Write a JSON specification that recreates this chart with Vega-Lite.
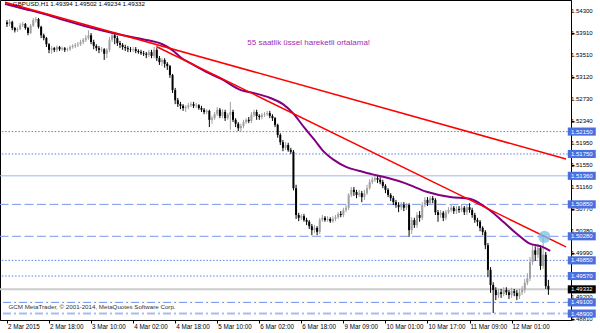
{
"$schema": "https://vega.github.io/schema/vega-lite/v6.json",
"width": 571, "height": 320,
"autosize": {"type": "none"},
"padding": {"left": 0, "top": 0, "right": 29, "bottom": 13},
"background": "white",
"config": {"font": "Liberation Sans", "view": {"stroke": "#000000", "strokeWidth": 1},
 "axis": {"grid": false, "title": null}},
"datasets": {
"levels": [{"p":1.5215},{"p":1.5175},{"p":1.5136},{"p":1.5085},{"p":1.5028},{"p":1.4985},{"p":1.4957},{"p":1.4910},{"p":1.4890}],
"current": [{"p":1.49332}],
"yticks": [{"p":1.543},{"p":1.5391},{"p":1.5351},{"p":1.5312},{"p":1.5273},{"p":1.5234},{"p":1.5195},{"p":1.5155},{"p":1.5116},{"p":1.5077},{"p":1.5038},{"p":1.4999},{"p":1.4920},{"p":1.4881}],
"xticks": [{"i":0,"t":"2 Mar 2015"},{"i":16,"t":"2 Mar 18:00"},{"i":32,"t":"3 Mar 10:00"},{"i":48,"t":"4 Mar 02:00"},{"i":64,"t":"4 Mar 18:00"},{"i":80,"t":"5 Mar 10:00"},{"i":96,"t":"6 Mar 02:00"},{"i":112,"t":"6 Mar 18:00"},{"i":128,"t":"9 Mar 09:00"},{"i":144,"t":"10 Mar 01:00"},{"i":160,"t":"10 Mar 17:00"},{"i":176,"t":"11 Mar 09:00"},{"i":192,"t":"12 Mar 01:00"}],
"candles": [
{"i":0,"o":1.5410,"h":1.5414,"l":1.5402,"c":1.5407},
{"i":1,"o":1.5407,"h":1.5416,"l":1.5403,"c":1.5411},
{"i":2,"o":1.5411,"h":1.5413,"l":1.5396,"c":1.5400},
{"i":3,"o":1.5400,"h":1.5402,"l":1.5392,"c":1.5396},
{"i":4,"o":1.5396,"h":1.5401,"l":1.5393,"c":1.5398},
{"i":5,"o":1.5398,"h":1.5409,"l":1.5396,"c":1.5405},
{"i":6,"o":1.5405,"h":1.5411,"l":1.5402,"c":1.5407},
{"i":7,"o":1.5407,"h":1.5409,"l":1.5397,"c":1.5400},
{"i":8,"o":1.5400,"h":1.5402,"l":1.5387,"c":1.5391},
{"i":9,"o":1.5391,"h":1.5407,"l":1.5389,"c":1.5404},
{"i":10,"o":1.5404,"h":1.5418,"l":1.5402,"c":1.5414},
{"i":11,"o":1.5414,"h":1.5420,"l":1.5410,"c":1.5416},
{"i":12,"o":1.5416,"h":1.5418,"l":1.5399,"c":1.5402},
{"i":13,"o":1.5402,"h":1.5404,"l":1.5382,"c":1.5387},
{"i":14,"o":1.5387,"h":1.5390,"l":1.5378,"c":1.5382},
{"i":15,"o":1.5382,"h":1.5384,"l":1.5366,"c":1.5371},
{"i":16,"o":1.5371,"h":1.5373,"l":1.5355,"c":1.5361},
{"i":17,"o":1.5361,"h":1.5368,"l":1.5354,"c":1.5364},
{"i":18,"o":1.5364,"h":1.5366,"l":1.5357,"c":1.5361},
{"i":19,"o":1.5361,"h":1.5369,"l":1.5357,"c":1.5366},
{"i":20,"o":1.5366,"h":1.5368,"l":1.5359,"c":1.5362},
{"i":21,"o":1.5362,"h":1.5367,"l":1.5359,"c":1.5364},
{"i":22,"o":1.5364,"h":1.5366,"l":1.5357,"c":1.5361},
{"i":23,"o":1.5361,"h":1.5365,"l":1.5358,"c":1.5362},
{"i":24,"o":1.5362,"h":1.5369,"l":1.5359,"c":1.5366},
{"i":25,"o":1.5366,"h":1.5371,"l":1.5363,"c":1.5368},
{"i":26,"o":1.5368,"h":1.5373,"l":1.5364,"c":1.5370},
{"i":27,"o":1.5370,"h":1.5375,"l":1.5366,"c":1.5371},
{"i":28,"o":1.5371,"h":1.5379,"l":1.5368,"c":1.5375},
{"i":29,"o":1.5375,"h":1.5382,"l":1.5371,"c":1.5379},
{"i":30,"o":1.5379,"h":1.5387,"l":1.5375,"c":1.5382},
{"i":31,"o":1.5382,"h":1.5396,"l":1.5379,"c":1.5387},
{"i":32,"o":1.5387,"h":1.5391,"l":1.5371,"c":1.5375},
{"i":33,"o":1.5375,"h":1.5379,"l":1.5362,"c":1.5368},
{"i":34,"o":1.5368,"h":1.5371,"l":1.5359,"c":1.5364},
{"i":35,"o":1.5364,"h":1.5368,"l":1.5355,"c":1.5361},
{"i":36,"o":1.5361,"h":1.5366,"l":1.5357,"c":1.5362},
{"i":37,"o":1.5362,"h":1.5364,"l":1.5343,"c":1.5354},
{"i":38,"o":1.5354,"h":1.5364,"l":1.5346,"c":1.5361},
{"i":39,"o":1.5361,"h":1.5384,"l":1.5357,"c":1.5379},
{"i":40,"o":1.5379,"h":1.5393,"l":1.5375,"c":1.5387},
{"i":41,"o":1.5387,"h":1.5393,"l":1.5371,"c":1.5382},
{"i":42,"o":1.5382,"h":1.5386,"l":1.5368,"c":1.5373},
{"i":43,"o":1.5373,"h":1.5377,"l":1.5364,"c":1.5370},
{"i":44,"o":1.5370,"h":1.5373,"l":1.5361,"c":1.5366},
{"i":45,"o":1.5366,"h":1.5370,"l":1.5359,"c":1.5364},
{"i":46,"o":1.5364,"h":1.5368,"l":1.5357,"c":1.5362},
{"i":47,"o":1.5362,"h":1.5366,"l":1.5357,"c":1.5361},
{"i":48,"o":1.5361,"h":1.5366,"l":1.5357,"c":1.5362},
{"i":49,"o":1.5362,"h":1.5366,"l":1.5355,"c":1.5359},
{"i":50,"o":1.5359,"h":1.5362,"l":1.5354,"c":1.5357},
{"i":51,"o":1.5357,"h":1.5361,"l":1.5352,"c":1.5355},
{"i":52,"o":1.5355,"h":1.5359,"l":1.5350,"c":1.5354},
{"i":53,"o":1.5354,"h":1.5357,"l":1.5346,"c":1.5352},
{"i":54,"o":1.5352,"h":1.5361,"l":1.5348,"c":1.5357},
{"i":55,"o":1.5357,"h":1.5361,"l":1.5346,"c":1.5350},
{"i":56,"o":1.5350,"h":1.5366,"l":1.5346,"c":1.5361},
{"i":57,"o":1.5361,"h":1.5364,"l":1.5341,"c":1.5346},
{"i":58,"o":1.5346,"h":1.5350,"l":1.5334,"c":1.5339},
{"i":59,"o":1.5339,"h":1.5346,"l":1.5332,"c":1.5343},
{"i":60,"o":1.5343,"h":1.5346,"l":1.5329,"c":1.5336},
{"i":61,"o":1.5336,"h":1.5339,"l":1.5325,"c":1.5332},
{"i":62,"o":1.5332,"h":1.5334,"l":1.5311,"c":1.5316},
{"i":63,"o":1.5316,"h":1.5318,"l":1.5284,"c":1.5289},
{"i":64,"o":1.5289,"h":1.5293,"l":1.5264,"c":1.5271},
{"i":65,"o":1.5271,"h":1.5275,"l":1.5259,"c":1.5264},
{"i":66,"o":1.5264,"h":1.5268,"l":1.5255,"c":1.5261},
{"i":67,"o":1.5261,"h":1.5264,"l":1.5252,"c":1.5257},
{"i":68,"o":1.5257,"h":1.5262,"l":1.5250,"c":1.5259},
{"i":69,"o":1.5259,"h":1.5266,"l":1.5255,"c":1.5262},
{"i":70,"o":1.5262,"h":1.5268,"l":1.5259,"c":1.5264},
{"i":71,"o":1.5264,"h":1.5268,"l":1.5257,"c":1.5261},
{"i":72,"o":1.5261,"h":1.5266,"l":1.5257,"c":1.5262},
{"i":73,"o":1.5262,"h":1.5264,"l":1.5254,"c":1.5257},
{"i":74,"o":1.5257,"h":1.5261,"l":1.5250,"c":1.5254},
{"i":75,"o":1.5254,"h":1.5257,"l":1.5246,"c":1.5250},
{"i":76,"o":1.5250,"h":1.5255,"l":1.5246,"c":1.5252},
{"i":77,"o":1.5252,"h":1.5254,"l":1.5223,"c":1.5236},
{"i":78,"o":1.5236,"h":1.5243,"l":1.5229,"c":1.5239},
{"i":79,"o":1.5239,"h":1.5250,"l":1.5236,"c":1.5246},
{"i":80,"o":1.5246,"h":1.5259,"l":1.5243,"c":1.5254},
{"i":81,"o":1.5254,"h":1.5257,"l":1.5239,"c":1.5243},
{"i":82,"o":1.5243,"h":1.5255,"l":1.5239,"c":1.5250},
{"i":83,"o":1.5250,"h":1.5254,"l":1.5234,"c":1.5239},
{"i":84,"o":1.5239,"h":1.5248,"l":1.5236,"c":1.5245},
{"i":85,"o":1.5245,"h":1.5268,"l":1.5218,"c":1.5250},
{"i":86,"o":1.5250,"h":1.5254,"l":1.5232,"c":1.5236},
{"i":87,"o":1.5236,"h":1.5239,"l":1.5223,"c":1.5229},
{"i":88,"o":1.5229,"h":1.5232,"l":1.5216,"c":1.5221},
{"i":89,"o":1.5221,"h":1.5229,"l":1.5214,"c":1.5225},
{"i":90,"o":1.5225,"h":1.5236,"l":1.5221,"c":1.5232},
{"i":91,"o":1.5232,"h":1.5239,"l":1.5229,"c":1.5236},
{"i":92,"o":1.5236,"h":1.5241,"l":1.5230,"c":1.5234},
{"i":93,"o":1.5234,"h":1.5250,"l":1.5230,"c":1.5245},
{"i":94,"o":1.5245,"h":1.5254,"l":1.5241,"c":1.5250},
{"i":95,"o":1.5250,"h":1.5254,"l":1.5236,"c":1.5243},
{"i":96,"o":1.5243,"h":1.5246,"l":1.5236,"c":1.5241},
{"i":97,"o":1.5241,"h":1.5248,"l":1.5237,"c":1.5245},
{"i":98,"o":1.5245,"h":1.5250,"l":1.5241,"c":1.5246},
{"i":99,"o":1.5246,"h":1.5252,"l":1.5243,"c":1.5248},
{"i":100,"o":1.5248,"h":1.5252,"l":1.5239,"c":1.5243},
{"i":101,"o":1.5243,"h":1.5246,"l":1.5234,"c":1.5239},
{"i":102,"o":1.5239,"h":1.5241,"l":1.5223,"c":1.5227},
{"i":103,"o":1.5227,"h":1.5229,"l":1.5204,"c":1.5209},
{"i":104,"o":1.5209,"h":1.5212,"l":1.5191,"c":1.5196},
{"i":105,"o":1.5196,"h":1.5200,"l":1.5180,"c":1.5186},
{"i":106,"o":1.5186,"h":1.5196,"l":1.5182,"c":1.5191},
{"i":107,"o":1.5191,"h":1.5195,"l":1.5179,"c":1.5182},
{"i":108,"o":1.5182,"h":1.5186,"l":1.5175,"c":1.5179},
{"i":109,"o":1.5179,"h":1.5182,"l":1.5110,"c":1.5114},
{"i":110,"o":1.5114,"h":1.5120,"l":1.5059,"c":1.5066},
{"i":111,"o":1.5066,"h":1.5070,"l":1.5055,"c":1.5061},
{"i":112,"o":1.5061,"h":1.5068,"l":1.5057,"c":1.5064},
{"i":113,"o":1.5064,"h":1.5068,"l":1.5054,"c":1.5057},
{"i":114,"o":1.5057,"h":1.5061,"l":1.5048,"c":1.5054},
{"i":115,"o":1.5054,"h":1.5057,"l":1.5041,"c":1.5046},
{"i":116,"o":1.5046,"h":1.5050,"l":1.5030,"c":1.5039},
{"i":117,"o":1.5039,"h":1.5048,"l":1.5034,"c":1.5043},
{"i":118,"o":1.5043,"h":1.5046,"l":1.5030,"c":1.5036},
{"i":119,"o":1.5036,"h":1.5061,"l":1.5032,"c":1.5057},
{"i":120,"o":1.5057,"h":1.5066,"l":1.5054,"c":1.5061},
{"i":121,"o":1.5061,"h":1.5064,"l":1.5054,"c":1.5057},
{"i":122,"o":1.5057,"h":1.5064,"l":1.5054,"c":1.5059},
{"i":123,"o":1.5059,"h":1.5062,"l":1.5052,"c":1.5055},
{"i":124,"o":1.5055,"h":1.5064,"l":1.5052,"c":1.5059},
{"i":125,"o":1.5059,"h":1.5066,"l":1.5055,"c":1.5062},
{"i":126,"o":1.5062,"h":1.5071,"l":1.5059,"c":1.5068},
{"i":127,"o":1.5068,"h":1.5073,"l":1.5062,"c":1.5066},
{"i":128,"o":1.5066,"h":1.5079,"l":1.5062,"c":1.5075},
{"i":129,"o":1.5075,"h":1.5084,"l":1.5071,"c":1.5079},
{"i":130,"o":1.5079,"h":1.5105,"l":1.5075,"c":1.5102},
{"i":131,"o":1.5102,"h":1.5116,"l":1.5098,"c":1.5111},
{"i":132,"o":1.5111,"h":1.5116,"l":1.5100,"c":1.5107},
{"i":133,"o":1.5107,"h":1.5111,"l":1.5096,"c":1.5102},
{"i":134,"o":1.5102,"h":1.5111,"l":1.5098,"c":1.5105},
{"i":135,"o":1.5105,"h":1.5109,"l":1.5089,"c":1.5098},
{"i":136,"o":1.5098,"h":1.5111,"l":1.5093,"c":1.5105},
{"i":137,"o":1.5105,"h":1.5120,"l":1.5102,"c":1.5114},
{"i":138,"o":1.5114,"h":1.5130,"l":1.5111,"c":1.5125},
{"i":139,"o":1.5125,"h":1.5134,"l":1.5121,"c":1.5129},
{"i":140,"o":1.5129,"h":1.5139,"l":1.5125,"c":1.5132},
{"i":141,"o":1.5132,"h":1.5137,"l":1.5123,"c":1.5129},
{"i":142,"o":1.5129,"h":1.5134,"l":1.5121,"c":1.5125},
{"i":143,"o":1.5125,"h":1.5129,"l":1.5114,"c":1.5118},
{"i":144,"o":1.5118,"h":1.5121,"l":1.5105,"c":1.5111},
{"i":145,"o":1.5111,"h":1.5114,"l":1.5098,"c":1.5102},
{"i":146,"o":1.5102,"h":1.5105,"l":1.5091,"c":1.5096},
{"i":147,"o":1.5096,"h":1.5100,"l":1.5084,"c":1.5089},
{"i":148,"o":1.5089,"h":1.5093,"l":1.5079,"c":1.5084},
{"i":149,"o":1.5084,"h":1.5089,"l":1.5071,"c":1.5080},
{"i":150,"o":1.5080,"h":1.5089,"l":1.5075,"c":1.5084},
{"i":151,"o":1.5084,"h":1.5089,"l":1.5073,"c":1.5079},
{"i":152,"o":1.5079,"h":1.5087,"l":1.5075,"c":1.5084},
{"i":153,"o":1.5084,"h":1.5087,"l":1.5027,"c":1.5039},
{"i":154,"o":1.5039,"h":1.5062,"l":1.5032,"c":1.5057},
{"i":155,"o":1.5057,"h":1.5061,"l":1.5043,"c":1.5048},
{"i":156,"o":1.5048,"h":1.5071,"l":1.5043,"c":1.5066},
{"i":157,"o":1.5066,"h":1.5073,"l":1.5054,"c":1.5061},
{"i":158,"o":1.5061,"h":1.5089,"l":1.5057,"c":1.5084},
{"i":159,"o":1.5084,"h":1.5098,"l":1.5080,"c":1.5093},
{"i":160,"o":1.5093,"h":1.5098,"l":1.5082,"c":1.5087},
{"i":161,"o":1.5087,"h":1.5100,"l":1.5084,"c":1.5096},
{"i":162,"o":1.5096,"h":1.5100,"l":1.5087,"c":1.5093},
{"i":163,"o":1.5093,"h":1.5096,"l":1.5066,"c":1.5071},
{"i":164,"o":1.5071,"h":1.5075,"l":1.5054,"c":1.5066},
{"i":165,"o":1.5066,"h":1.5075,"l":1.5061,"c":1.5070},
{"i":166,"o":1.5070,"h":1.5073,"l":1.5055,"c":1.5061},
{"i":167,"o":1.5061,"h":1.5075,"l":1.5057,"c":1.5071},
{"i":168,"o":1.5071,"h":1.5080,"l":1.5068,"c":1.5075},
{"i":169,"o":1.5075,"h":1.5084,"l":1.5071,"c":1.5079},
{"i":170,"o":1.5079,"h":1.5082,"l":1.5068,"c":1.5073},
{"i":171,"o":1.5073,"h":1.5082,"l":1.5068,"c":1.5077},
{"i":172,"o":1.5077,"h":1.5082,"l":1.5070,"c":1.5075},
{"i":173,"o":1.5075,"h":1.5086,"l":1.5071,"c":1.5079},
{"i":174,"o":1.5079,"h":1.5082,"l":1.5066,"c":1.5071},
{"i":175,"o":1.5071,"h":1.5084,"l":1.5066,"c":1.5080},
{"i":176,"o":1.5080,"h":1.5087,"l":1.5070,"c":1.5075},
{"i":177,"o":1.5075,"h":1.5079,"l":1.5061,"c":1.5066},
{"i":178,"o":1.5066,"h":1.5070,"l":1.5052,"c":1.5057},
{"i":179,"o":1.5057,"h":1.5061,"l":1.5046,"c":1.5054},
{"i":180,"o":1.5054,"h":1.5057,"l":1.5037,"c":1.5043},
{"i":181,"o":1.5043,"h":1.5046,"l":1.5030,"c":1.5036},
{"i":182,"o":1.5036,"h":1.5039,"l":1.5005,"c":1.5012},
{"i":183,"o":1.5012,"h":1.5016,"l":1.4955,"c":1.4968},
{"i":184,"o":1.4968,"h":1.4973,"l":1.4927,"c":1.4941},
{"i":185,"o":1.4941,"h":1.4946,"l":1.4891,"c":1.4932},
{"i":186,"o":1.4932,"h":1.4937,"l":1.4914,"c":1.4923},
{"i":187,"o":1.4923,"h":1.4934,"l":1.4918,"c":1.4928},
{"i":188,"o":1.4928,"h":1.4934,"l":1.4918,"c":1.4925},
{"i":189,"o":1.4925,"h":1.4937,"l":1.4921,"c":1.4932},
{"i":190,"o":1.4932,"h":1.4937,"l":1.4923,"c":1.4928},
{"i":191,"o":1.4928,"h":1.4932,"l":1.4916,"c":1.4923},
{"i":192,"o":1.4923,"h":1.4936,"l":1.4918,"c":1.4930},
{"i":193,"o":1.4930,"h":1.4934,"l":1.4921,"c":1.4927},
{"i":194,"o":1.4927,"h":1.4932,"l":1.4914,"c":1.4921},
{"i":195,"o":1.4921,"h":1.4934,"l":1.4916,"c":1.4928},
{"i":196,"o":1.4928,"h":1.4939,"l":1.4923,"c":1.4932},
{"i":197,"o":1.4932,"h":1.4952,"l":1.4927,"c":1.4945},
{"i":198,"o":1.4945,"h":1.4962,"l":1.4941,"c":1.4953},
{"i":199,"o":1.4953,"h":1.4991,"l":1.4948,"c":1.4982},
{"i":200,"o":1.4982,"h":1.5012,"l":1.4977,"c":1.5003},
{"i":201,"o":1.5003,"h":1.5010,"l":1.4984,"c":1.4995},
{"i":202,"o":1.4995,"h":1.5014,"l":1.4989,"c":1.5007},
{"i":203,"o":1.5007,"h":1.5012,"l":1.4968,"c":1.4975},
{"i":204,"o":1.4975,"h":1.5028,"l":1.4970,"c":1.4995},
{"i":205,"o":1.4995,"h":1.5000,"l":1.4934,"c":1.4939},
{"i":206,"o":1.49394,"h":1.49502,"l":1.49234,"c":1.49332}
],
"ema": [
{"i":-0.75,"p":1.5443},{"i":6.7,"p":1.5434},{"i":14.2,"p":1.5425},{"i":21.7,"p":1.5414},{"i":29.2,"p":1.5404},{"i":36.6,"p":1.5395},{"i":44.1,"p":1.5387},{"i":51.6,"p":1.5380},{"i":59.1,"p":1.5371},{"i":62.8,"p":1.5361},{"i":66.5,"p":1.5346},{"i":70.3,"p":1.5336},{"i":76.6,"p":1.5320},{"i":81.5,"p":1.5309},{"i":89.0,"p":1.5289},{"i":93.8,"p":1.5284},{"i":100.2,"p":1.5275},{"i":105.0,"p":1.5264},{"i":108.8,"p":1.5248},{"i":113.3,"p":1.5221},{"i":117.0,"p":1.5200},{"i":120.0,"p":1.5182},{"i":124.5,"p":1.5164},{"i":129.0,"p":1.5152},{"i":133.8,"p":1.5145},{"i":138.7,"p":1.5139},{"i":145.0,"p":1.5132},{"i":151.4,"p":1.5123},{"i":160.0,"p":1.5107},{"i":168.6,"p":1.5098},{"i":176.1,"p":1.5095},{"i":179.8,"p":1.5087},{"i":183.6,"p":1.5075},{"i":188.8,"p":1.5054},{"i":193.6,"p":1.5034},{"i":198.5,"p":1.5016},{"i":203.7,"p":1.5009},{"i":206.7,"p":1.5002}
],
"trend": [
{"line":"A","i":-0.75,"p":1.5446},{"line":"A","i":212.7,"p":1.5166},
{"line":"B","i":56.8,"p":1.5367},{"line":"B","i":212.7,"p":1.5009}
]
},
"layer": [
{"data": {"name": "current"}, "mark": {"type": "rule", "color": "#cccccc", "strokeWidth": 2},
 "encoding": {"y": {"field": "p", "type": "quantitative", "scale": {"domain": [1.48785, 1.5450], "nice": false, "zero": false},
  "axis": {"orient": "right", "title": null, "grid": false, "values": [1.543,1.5391,1.5351,1.5312,1.5273,1.5234,1.5195,1.5155,1.5116,1.5077,1.5038,1.4999,1.4920,1.4881], "labels": false, "tickSize": 3, "tickColor": "#000000", "domainColor": "#000000"}}}},
{"data": {"name": "levels"}, "transform": [{"filter": "indexof([1.5215,1.5175,1.4985,1.4957], datum.p) >= 0"}],
 "mark": {"type": "rule", "color": "#5a7fe6", "strokeWidth": 1, "strokeDash": [1.5, 1.8]},
 "encoding": {"y": {"field": "p", "type": "quantitative"}}},
{"data": {"name": "levels"}, "transform": [{"filter": "indexof([1.5085,1.5028], datum.p) >= 0"}],
 "mark": {"type": "rule", "color": "#7a98ec", "strokeWidth": 1, "strokeDash": [9, 3.5]},
 "encoding": {"y": {"field": "p", "type": "quantitative"}}},
{"data": {"name": "levels"}, "transform": [{"filter": "datum.p == 1.5136"}],
 "mark": {"type": "rule", "color": "#9fb6f2", "strokeWidth": 1},
 "encoding": {"y": {"field": "p", "type": "quantitative"}}},
{"data": {"name": "levels"}, "transform": [{"filter": "datum.p == 1.491"}],
 "mark": {"type": "rule", "color": "#6f8fe8", "strokeWidth": 1, "strokeDash": [8, 3, 2, 3]},
 "encoding": {"y": {"field": "p", "type": "quantitative"}}},
{"data": {"name": "levels"}, "transform": [{"filter": "datum.p == 1.489"}],
 "mark": {"type": "rule", "color": "#aabdf3", "strokeWidth": 2, "strokeDash": [8, 3, 2, 3]},
 "encoding": {"y": {"field": "p", "type": "quantitative"}}},
{"data": {"name": "candles"}, "mark": {"type": "rule", "strokeWidth": 1},
 "encoding": {
  "x": {"field": "i", "type": "quantitative", "scale": {"domain": [-0.75, 212.7], "nice": false, "zero": false},
   "axis": {"orient": "bottom", "title": null, "grid": false, "values": [0,16,32,48,64,80,96,112,128,144,160,176,192], "labels": false, "tickSize": 3, "tickColor": "#000000", "domainColor": "#000000"}},
  "y": {"field": "l", "type": "quantitative"},
  "y2": {"field": "h"},
  "color": {"condition": {"test": "datum.c > datum.o", "value": "#a0a0a0"}, "value": "#000000"}}},
{"data": {"name": "candles"}, "mark": {"type": "bar", "size": 2},
 "encoding": {
  "x": {"field": "i", "type": "quantitative"},
  "y": {"field": "o", "type": "quantitative"},
  "y2": {"field": "c"},
  "color": {"condition": {"test": "datum.c > datum.o", "value": "#a0a0a0"}, "value": "#000000"}}},
{"data": {"name": "ema"}, "mark": {"type": "line", "color": "#800080", "strokeWidth": 2, "interpolate": "monotone"},
 "encoding": {"x": {"field": "i", "type": "quantitative"}, "y": {"field": "p", "type": "quantitative"}}},
{"data": {"name": "trend"}, "mark": {"type": "line", "color": "#ff0000", "strokeWidth": 1.5, "clip": true},
 "encoding": {"x": {"field": "i", "type": "quantitative"}, "y": {"field": "p", "type": "quantitative"}, "detail": {"field": "line"}}},
{"data": {"values": [{"t": "circle"}]}, "mark": {"type": "point", "shape": "circle", "filled": true, "size": 150, "color": "#74c2ee", "opacity": 0.75},
 "encoding": {"x": {"datum": 204.5}, "y": {"datum": 1.5027}}},
{"data": {"name": "yticks"}, "mark": {"type": "text", "align": "left", "baseline": "middle", "color": "#000000", "fontSize": 6},
 "encoding": {"x": {"datum": 214.6}, "y": {"field": "p", "type": "quantitative"}, "text": {"field": "p", "format": ".5f"}}},
{"data": {"name": "xticks"}, "mark": {"type": "text", "align": "left", "baseline": "middle", "color": "#000000", "fontSize": 6.3, "dx": 1},
 "encoding": {"x": {"field": "i", "type": "quantitative"}, "y": {"datum": 1.4866}, "text": {"field": "t"}}},
{"data": {"name": "levels"}, "mark": {"type": "point", "shape": "M-1,-0.29L1,-0.29L1,0.29L-1,0.29Z", "filled": true, "size": 784, "color": "#4a6fe0", "opacity": 1, "strokeWidth": 0},
 "encoding": {"x": {"datum": 218.7}, "y": {"field": "p", "type": "quantitative"}}},
{"data": {"name": "levels"}, "mark": {"type": "text", "align": "left", "baseline": "middle", "color": "#ffffff", "fontSize": 6},
 "encoding": {"x": {"datum": 214.6}, "y": {"field": "p", "type": "quantitative"}, "text": {"field": "p", "format": ".5f"}}},
{"data": {"name": "current"}, "mark": {"type": "point", "shape": "M-1,-0.29L1,-0.29L1,0.29L-1,0.29Z", "filled": true, "size": 784, "color": "#000000", "opacity": 1, "strokeWidth": 0},
 "encoding": {"x": {"datum": 218.7}, "y": {"field": "p", "type": "quantitative"}}},
{"data": {"name": "current"}, "mark": {"type": "text", "align": "left", "baseline": "middle", "color": "#ffffff", "fontSize": 6},
 "encoding": {"x": {"datum": 214.6}, "y": {"field": "p", "type": "quantitative"}, "text": {"field": "p", "format": ".5f"}}},
{"data": {"values": [{"t": "GBPUSD,H1  1.49394 1.49502 1.49234 1.49332"}]}, "mark": {"type": "text", "align": "left", "baseline": "middle", "color": "#000000", "fontSize": 6.2},
 "encoding": {"x": {"datum": 2.24}, "y": {"datum": 1.5442}, "text": {"field": "t"}}},
{"data": {"values": [{"t": "GCM MetaTrader, © 2001-2014, MetaQuotes Software Corp."}]}, "mark": {"type": "text", "align": "left", "baseline": "middle", "color": "#333333", "fontSize": 6.2},
 "encoding": {"x": {"datum": 0.6}, "y": {"datum": 1.4902}, "text": {"field": "t"}}},
{"data": {"values": [{"t": "55 saatlik üssel hareketli ortalama!"}]}, "mark": {"type": "text", "align": "center", "baseline": "middle", "color": "#a02cb4", "fontSize": 8},
 "encoding": {"x": {"datum": 114.8}, "y": {"datum": 1.5373}, "text": {"field": "t"}}}
]
}
